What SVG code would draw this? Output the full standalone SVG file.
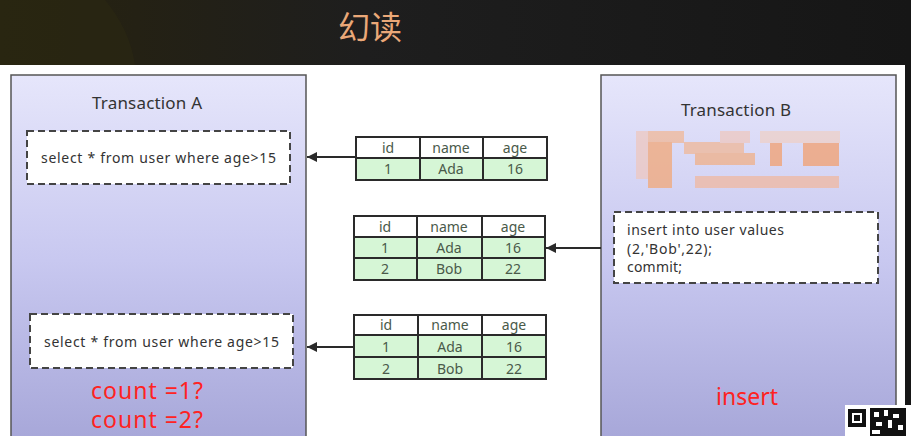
<svg xmlns="http://www.w3.org/2000/svg" width="911" height="436" viewBox="0 0 911 436">
<defs>
<linearGradient id="bg" x1="0" y1="0" x2="1" y2="0">
<stop offset="0" stop-color="#26230f"/><stop offset="0.15" stop-color="#242114"/><stop offset="0.4" stop-color="#1e1e1e"/><stop offset="1" stop-color="#161616"/>
</linearGradient>
<linearGradient id="box" x1="0" y1="0" x2="0" y2="1">
<stop offset="0" stop-color="#e6e6fb"/><stop offset="0.5" stop-color="#c8c8f0"/><stop offset="1" stop-color="#a6a6d8"/>
</linearGradient>
<marker id="ah" viewBox="0 0 10 10" refX="10" refY="5" markerWidth="10" markerHeight="10" markerUnits="userSpaceOnUse" orient="auto">
<path d="M0,0 L10,5 L0,10 z" fill="#2a2a2a"/>
</marker>
<style>
.tbox{fill:url(#box);stroke:#555;stroke-width:1.5}
.dash{fill:#fff;stroke:#444;stroke-width:2;stroke-dasharray:7,4}
.sql{font-family:"Noto Sans","Open Sans",sans-serif;font-size:14px;fill:#333}
.title{font-family:"Noto Sans","Open Sans",sans-serif;font-size:17px;fill:#333;text-anchor:middle}
.red{font-family:"Noto Sans","Open Sans",sans-serif;font-size:23px;fill:#ff2222}
.hd{fill:#fff;stroke:#2a2a2a;stroke-width:2}
.rw{fill:#d6f6d6;stroke:#2a2a2a;stroke-width:2}
.tt{font-family:"Noto Sans","Open Sans",sans-serif;font-size:14px;fill:#4a5a4a;text-anchor:middle}
.conn{stroke:#2a2a2a;stroke-width:2;fill:none;marker-end:url(#ah)}
</style>
</defs>
<rect x="0" y="0" width="911" height="436" fill="url(#bg)"/>
<path d="M0,0 L105,0 Q130,30 135,65 L0,65 z" fill="#2c2812" opacity="0.6"/>
<text x="370" y="39" font-family="'Noto Sans CJK SC',sans-serif" font-size="32" fill="#eaa878" text-anchor="middle">幻读</text>
<rect x="0" y="65" width="905" height="371" fill="#fff"/>

<g id="transactionA">
<rect class="tbox" x="11" y="75" width="295" height="370"/>
<text class="title" x="147" y="109" textLength="110">Transaction A</text>
</g>
<g id="transactionB">
<rect class="tbox" x="601" y="75" width="295" height="370"/>
<text class="title" x="736" y="116" textLength="110">Transaction B</text>
<g opacity="0.75">
<rect x="636" y="131" width="14" height="48" fill="#eec8c0"/>
<rect x="648" y="131" width="36" height="12" fill="#f0b898"/>
<rect x="648" y="142" width="24" height="46" fill="#f2a878"/>
<rect x="684" y="142" width="60" height="12" fill="#f0b898"/>
<rect x="695" y="153" width="60" height="12" fill="#f0b088"/>
<rect x="720" y="131" width="30" height="12" fill="#eec8c0"/>
<rect x="770" y="142" width="12" height="24" fill="#f2a070"/>
<rect x="803" y="142" width="36" height="24" fill="#f2a070"/>
<rect x="695" y="176" width="144" height="12" fill="#f0b8a0"/>
<rect x="760" y="131" width="80" height="12" fill="#eed0c8"/>
</g>
<g id="insertSql">
<rect class="dash" x="614" y="212" width="264" height="71"/>
<text class="sql" x="627" y="235" textLength="157">insert into user values</text>
<text class="sql" x="627" y="254" textLength="85">(2,'Bob',22);</text>
<text class="sql" x="627" y="272" textLength="55">commit;</text>
</g>
<text class="red" x="747" y="405" text-anchor="middle">insert</text>
</g>

<g id="select1">
<rect class="dash" x="27" y="131" width="263" height="53"/>
<text class="sql" x="41" y="163" textLength="235">select * from user where age&gt;15</text>
</g>
<g id="select2">
<rect class="dash" x="30" y="314" width="263" height="54"/>
<text class="sql" x="44" y="347" textLength="235">select * from user where age&gt;15</text>
</g>
<g id="counts">
<text class="red" x="91" y="399" textLength="112">count =1?</text>
<text class="red" x="91" y="428" textLength="112">count =2?</text>
</g>

<g id="table1">
<rect class="hd" x="356" y="137" width="64" height="21"/><rect class="hd" x="420" y="137" width="63" height="21"/><rect class="hd" x="483" y="137" width="64" height="21"/>
<rect class="rw" x="356" y="158" width="64" height="22"/><rect class="rw" x="420" y="158" width="63" height="22"/><rect class="rw" x="483" y="158" width="64" height="22"/>
<text class="tt" x="388" y="153">id</text><text class="tt" x="451" y="153">name</text><text class="tt" x="515" y="153">age</text>
<text class="tt" x="388" y="174">1</text><text class="tt" x="451" y="174">Ada</text><text class="tt" x="515" y="174">16</text>
</g>
<g id="table2">
<rect class="hd" x="354" y="216" width="63" height="21"/><rect class="hd" x="417" y="216" width="65" height="21"/><rect class="hd" x="482" y="216" width="63" height="21"/>
<rect class="rw" x="354" y="237" width="63" height="21"/><rect class="rw" x="417" y="237" width="65" height="21"/><rect class="rw" x="482" y="237" width="63" height="21"/>
<rect class="rw" x="354" y="258" width="63" height="22"/><rect class="rw" x="417" y="258" width="65" height="22"/><rect class="rw" x="482" y="258" width="63" height="22"/>
<text class="tt" x="385" y="232">id</text><text class="tt" x="449" y="232">name</text><text class="tt" x="513" y="232">age</text>
<text class="tt" x="385" y="253">1</text><text class="tt" x="449" y="253">Ada</text><text class="tt" x="513" y="253">16</text>
<text class="tt" x="385" y="274">2</text><text class="tt" x="449" y="274">Bob</text><text class="tt" x="513" y="274">22</text>
</g>
<g id="table3">
<rect class="hd" x="354" y="315" width="64" height="20"/><rect class="hd" x="418" y="315" width="64" height="20"/><rect class="hd" x="482" y="315" width="64" height="20"/>
<rect class="rw" x="354" y="335" width="64" height="22"/><rect class="rw" x="418" y="335" width="64" height="22"/><rect class="rw" x="482" y="335" width="64" height="22"/>
<rect class="rw" x="354" y="357" width="64" height="22"/><rect class="rw" x="418" y="357" width="64" height="22"/><rect class="rw" x="482" y="357" width="64" height="22"/>
<text class="tt" x="386" y="330">id</text><text class="tt" x="450" y="330">name</text><text class="tt" x="514" y="330">age</text>
<text class="tt" x="386" y="352">1</text><text class="tt" x="450" y="352">Ada</text><text class="tt" x="514" y="352">16</text>
<text class="tt" x="386" y="374">2</text><text class="tt" x="450" y="374">Bob</text><text class="tt" x="514" y="374">22</text>
</g>

<g id="connectors">
<line class="conn" x1="356" y1="157" x2="307" y2="157"/>
<line class="conn" x1="601" y1="248" x2="546" y2="248"/>
<line class="conn" x1="354" y1="347" x2="307" y2="347"/>
</g>

<g id="qr">
<rect x="845" y="405" width="66" height="31" fill="#fff"/>
<rect x="848" y="409" width="18" height="18" fill="#111"/>
<rect x="852" y="413" width="10" height="10" fill="#fff"/>
<rect x="854" y="415" width="6" height="6" fill="#111"/>
<rect x="870" y="408" width="36" height="28" fill="#111"/>
<rect x="874" y="412" width="5" height="5" fill="#fff"/><rect x="884" y="410" width="4" height="6" fill="#fff"/><rect x="893" y="414" width="6" height="4" fill="#fff"/>
<rect x="876" y="422" width="6" height="4" fill="#fff"/><rect x="888" y="420" width="4" height="8" fill="#fff"/><rect x="898" y="425" width="5" height="5" fill="#fff"/>
<rect x="872" y="430" width="8" height="4" fill="#fff"/>
</g>
</svg>
